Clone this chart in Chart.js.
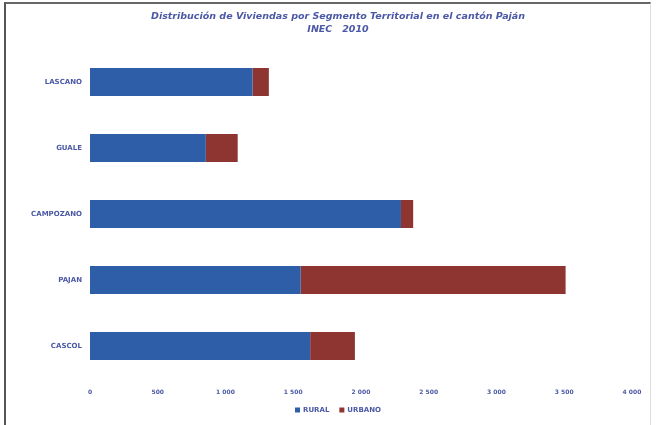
<!DOCTYPE html>
<html>
<head>
<meta charset="utf-8">
<script src="https://cdn.jsdelivr.net/npm/chart.js@4"></script>
<style>
  body { margin: 0; background: #fff; }
  #marco {
    position: absolute; left: 4px; top: 2px; width: 647px; height: 423px;
    border-left: 2px solid #555; border-top: 2px solid #666; border-right: 1px solid #ddd;
    box-sizing: border-box;
  }
  #grafico { position: absolute; left: 0; top: 0; }
</style>
</head>
<body>
<div id="marco"></div>
<canvas id="grafico" width="656" height="425"></canvas>
<script>
// Datos (viviendas por parroquia)
const parroquias = ['LASCANO', 'GUALE', 'CAMPOZANO', 'PAJAN', 'CASCOL'];
const rural = [1200, 855, 2295, 1555, 1625];
const urbano = [120, 235, 90, 1955, 330];
const ticksX = [0, 500, 1000, 1500, 2000, 2500, 3000, 3500, 4000];
const titulo = ['Distribución de Viviendas por Segmento Territorial en el cantón Paján', 'INEC   2010'];

const colorTexto = '#4b58a6';

function formatoMiles(v) {
    return v.toString().replace(/\B(?=(\d{3})+(?!\d))/g, ' ');
}

// Título y leyenda dibujados a mano (en el original van algo corridos a la derecha)
const tituloYLeyenda = {
    id: 'tituloYLeyenda',
    afterDraw(chart) {
        const c = chart.ctx;
        const centro = 338;
        c.save();
        c.fillStyle = colorTexto;
        c.textAlign = 'center';
        c.textBaseline = 'middle';
        c.font = 'italic bold 9.5px "DejaVu Sans"';
        titulo.forEach((t, i) => c.fillText(t, centro, 17 + i * 13));

        // leyenda
        c.font = 'bold 7px "DejaVu Sans"';
        c.textAlign = 'left';
        const items = chart.data.datasets.map(d => ({ texto: d.label, color: d.backgroundColor }));
        const anchos = items.map(it => 8 + c.measureText(it.texto).width);
        const total = anchos.reduce((a, b) => a + b, 0) + 10 * (items.length - 1);
        let x = centro - total / 2;
        items.forEach((it, i) => {
            c.fillStyle = it.color;
            c.fillRect(x, 407.5, 5, 5);
            c.fillStyle = colorTexto;
            c.fillText(it.texto, x + 8, 410);
            x += anchos[i] + 10;
        });
        c.restore();
    }
};

const ctx = document.getElementById('grafico').getContext('2d');

new Chart(ctx, {
    type: 'bar',
    data: {
        labels: parroquias,
        datasets: [{
            label: 'RURAL',
            data: rural,
            backgroundColor: '#2f5ea8',
            barPercentage: 0.85,
            categoryPercentage: 0.5
        }, {
            label: 'URBANO',
            data: urbano,
            backgroundColor: '#8e3532',
            barPercentage: 0.85,
            categoryPercentage: 0.5
        }]
    },
    plugins: [tituloYLeyenda],
    options: {
        indexAxis: 'y',
        responsive: false,
        animation: false,
        layout: {
            padding: { left: 0, right: 24, top: 49, bottom: 24 }
        },
        plugins: {
            title: { display: false },
            legend: { display: false },
            tooltip: { enabled: false }
        },
        scales: {
            x: {
                stacked: true,
                min: 0,
                max: 4000,
                afterBuildTicks: function(scale) {
                    scale.ticks = ticksX.map(v => ({ value: v }));
                },
                afterFit: function(scale) { scale.height = 22; },
                grid: { display: false, drawTicks: false },
                border: { display: false },
                ticks: {
                    color: colorTexto,
                    font: { family: 'DejaVu Sans', size: 6, weight: 'bold' },
                    padding: 10,
                    maxRotation: 0,
                    callback: v => formatoMiles(v)
                }
            },
            y: {
                stacked: true,
                grid: { display: false, drawTicks: false },
                border: { display: false },
                afterFit: function(scale) { scale.width = 90; },
                ticks: {
                    color: colorTexto,
                    font: { family: 'DejaVu Sans', size: 7, weight: 'bold' },
                    padding: 8
                }
            }
        }
    }
});
</script>
</body>
</html>
